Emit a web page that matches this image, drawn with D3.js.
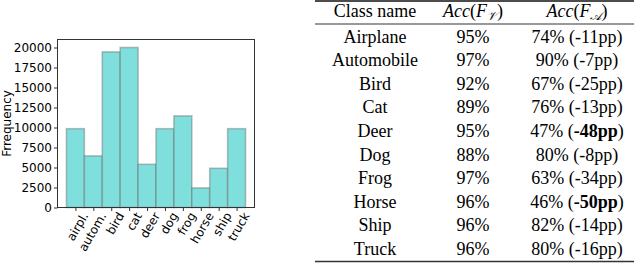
<!DOCTYPE html>
<html>
<head>
<meta charset="utf-8">
<script src="https://cdn.jsdelivr.net/npm/d3@7"></script>
<style>
	body { margin: 0; background: #fff; }
	svg { display: block; }
	.tick text { font-family: 'DejaVu Sans', sans-serif; }
	.tbl text { font-family: 'Liberation Serif', 'Times New Roman', serif; font-size: 18px; }
</style>
</head>
<body>
<div id="chart"></div>
<script>
const width = 638;
const height = 264;

// Histogram data ===========================================================
const classes = ['airpl.', 'autom.', 'bird', 'cat', 'deer', 'dog', 'frog', 'horse', 'ship', 'truck'];
const counts = [9850, 6450, 19450, 20000, 5400, 9850, 11450, 2450, 4900, 9850];
const yTicks = [0, 2500, 5000, 7500, 10000, 12500, 15000, 17500, 20000];

// Table data ===============================================================
const tableNames = ['Airplane', 'Automobile', 'Bird', 'Cat', 'Deer', 'Dog', 'Frog', 'Horse', 'Ship', 'Truck'];
const accV = ['95%', '97%', '92%', '89%', '95%', '88%', '97%', '96%', '96%', '96%'];
const accA = ['74%', '90%', '67%', '76%', '47%', '80%', '63%', '46%', '82%', '80%'];
const accDrop = ['-11pp', '-7pp', '-25pp', '-13pp', '-48pp', '-8pp', '-34pp', '-50pp', '-14pp', '-16pp'];
const boldDrop = [false, false, false, false, true, false, false, true, false, false];

const svg = d3.select('#chart').append('svg').attr('width', width).attr('height', height);

// Bar chart ================================================================
const plot = { left: 57.5, right: 254.5, top: 39.5, bottom: 207.5 };

const x = d3.scaleLinear().domain([-1, classes.length]).range([plot.left, plot.right]);
const y = d3.scaleLinear().domain([0, 21000]).range([plot.bottom, plot.top]);

const chart = svg.append('g');

chart
	.selectAll('.bar')
	.data(counts)
	.enter()
	.append('rect')
	.attr('class', 'bar')
	.attr('x', (d, i) => x(i - 0.5))
	.attr('width', (d, i) => x(i + 0.5) - x(i - 0.5))
	.attr('y', (d) => y(d))
	.attr('height', (d) => y(0) - y(d))
	.attr('fill', '#7fdfdd')
	.attr('stroke', 'rgb(110,110,110)')
	.attr('stroke-opacity', 0.45)
	.attr('stroke-width', 1.6);

// frame
chart
	.append('rect')
	.attr('x', plot.left)
	.attr('y', plot.top)
	.attr('width', plot.right - plot.left)
	.attr('height', plot.bottom - plot.top)
	.attr('fill', 'none')
	.attr('stroke', '#333')
	.attr('stroke-width', 1);

// y axis
const yAxis = d3.axisLeft(y).tickValues(yTicks).tickFormat(d3.format('d')).tickSize(3.5).tickPadding(2);
chart
	.append('g')
	.attr('transform', `translate(${plot.left}, 0)`)
	.call(yAxis)
	.call((g) => g.select('.domain').remove())
	.call((g) => g.selectAll('.tick line').attr('stroke', '#333'))
	.selectAll('text')
	.attr('font-size', 12)
	.attr('fill', '#000');

// x axis
const xAxis = d3
	.axisBottom(x)
	.tickValues(d3.range(classes.length))
	.tickFormat((d) => classes[d])
	.tickSize(3.5);
chart
	.append('g')
	.attr('transform', `translate(0, ${plot.bottom})`)
	.call(xAxis)
	.call((g) => g.select('.domain').remove())
	.call((g) => g.selectAll('.tick line').attr('stroke', '#333'))
	.selectAll('text')
	.attr('font-size', 12)
	.attr('fill', '#000')
	.attr('text-anchor', 'end')
	.attr('dx', '0.25em')
	.attr('dy', '0.55em')
	.attr('transform', 'translate(0, 4) rotate(-60)');

// y label (typo kept as in the original)
chart
	.append('text')
	.attr('transform', `translate(11, ${(plot.top + plot.bottom) / 2}) rotate(-90)`)
	.attr('text-anchor', 'middle')
	.style('font-family', "'DejaVu Sans', sans-serif")
	.attr('font-size', 12)
	.text('Frrequency');

// Table ====================================================================
const table = svg.append('g').attr('class', 'tbl');
const col = [375, 473, 577];
const rowY = (i) => 42.5 + i * 23.6;

table.append('line').attr('x1', 315).attr('x2', 634).attr('y1', 1).attr('y2', 1).attr('stroke', '#111').attr('stroke-width', 1.6);
table.append('line').attr('x1', 315).attr('x2', 634).attr('y1', 24).attr('y2', 24).attr('stroke', '#777').attr('stroke-width', 1.6);
table.append('line').attr('x1', 315).attr('x2', 634).attr('y1', 261.5).attr('y2', 261.5).attr('stroke', '#333').attr('stroke-width', 1.6);

// header
table.append('text').attr('x', col[0]).attr('y', 17).attr('text-anchor', 'middle').text('Class name');

function accHeader(xPos, sub) {
	const t = table.append('text').attr('x', xPos).attr('y', 17).attr('text-anchor', 'middle');
	t.append('tspan').attr('font-style', 'italic').text('Acc');
	t.append('tspan').text('(');
	t.append('tspan').attr('font-style', 'italic').text('F');
	t.append('tspan').attr('font-style', 'italic').style('font-size', '12px').attr('dy', 3).text(sub);
	t.append('tspan').attr('dy', -3).text(')');
}
accHeader(col[1], '𝒱');
accHeader(col[2], '𝒜');

// rows
tableNames.forEach((name, i) => {
	table.append('text').attr('x', col[0]).attr('y', rowY(i)).attr('text-anchor', 'middle').text(name);
	table.append('text').attr('x', col[1]).attr('y', rowY(i)).attr('text-anchor', 'middle').text(accV[i]);
	const t = table.append('text').attr('x', col[2]).attr('y', rowY(i)).attr('text-anchor', 'middle');
	t.append('tspan').text(accA[i] + ' (');
	t.append('tspan').attr('font-weight', boldDrop[i] ? 'bold' : 'normal').text(accDrop[i]);
	t.append('tspan').text(')');
});
</script>
</body>
</html>
